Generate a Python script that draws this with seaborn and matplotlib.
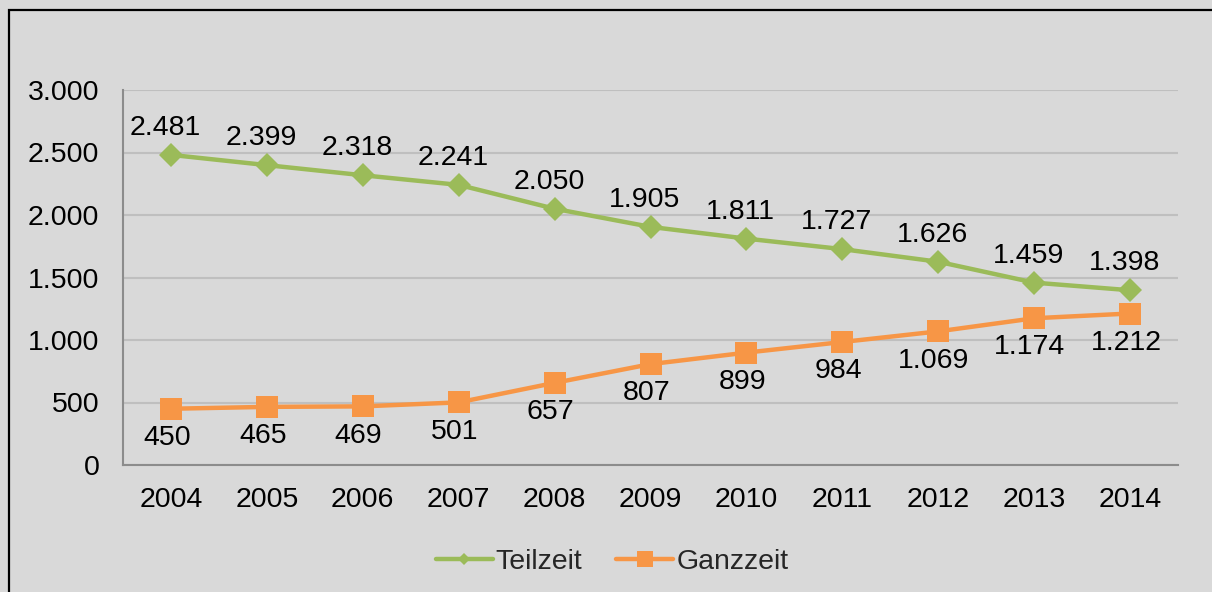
import matplotlib
matplotlib.use("Agg")
import matplotlib.pyplot as plt
import seaborn as sns
import pandas as pd
from matplotlib.lines import Line2D
from matplotlib.patches import Rectangle

years = ["2004", "2005", "2006", "2007", "2008", "2009", "2010", "2011", "2012", "2013", "2014"]
teilzeit = [2481, 2399, 2318, 2241, 2050, 1905, 1811, 1727, 1626, 1459, 1398]
ganzzeit = [450, 465, 469, 501, 657, 807, 899, 984, 1069, 1174, 1212]
series_names = ["Teilzeit", "Ganzzeit"]
y_ticks = [0, 500, 1000, 1500, 2000, 2500, 3000]

colors = {"Teilzeit": "#9BBB59", "Ganzzeit": "#F79646"}
bg = "#D9D9D9"
FS = 20.5

def de_fmt(v):
    return f"{v:,}".replace(",", ".")

df = pd.DataFrame({
    "Jahr": years * 2,
    "Wert": teilzeit + ganzzeit,
    "Serie": ["Teilzeit"] * len(years) + ["Ganzzeit"] * len(years),
})

sns.set_theme(style="white")
plt.rcParams["font.family"] = ["Liberation Sans", "DejaVu Sans"]

fig = plt.figure(figsize=(12.12, 5.92), dpi=100, facecolor=bg)
ax = fig.add_axes([123 / 1212, 1 - 465 / 592, (1178 - 123) / 1212, (465 - 90) / 592])
ax.set_facecolor(bg)

sns.lineplot(data=df, x="Jahr", y="Wert", hue="Serie", style="Serie",
             markers={"Teilzeit": "D", "Ganzzeit": "s"}, dashes=False,
             palette=colors, linewidth=3.2, markeredgewidth=0,
             hue_order=series_names, style_order=series_names,
             ax=ax, legend=False, sort=False)
for ln in ax.lines:
    if ln.get_marker() == "D":
        ln.set_markersize(12.5)
    else:
        ln.set_markersize(15.5)

ax.set_ylim(0, 3000)
ax.set_xlim(-0.5, len(years) - 0.5)
ax.set_yticks(y_ticks)
ax.set_yticklabels([de_fmt(v) for v in y_ticks])
ax.grid(axis="y", color="#BFBFBF", linewidth=1.5)
ax.set_axisbelow(True)
for s in ["top", "right"]:
    ax.spines[s].set_visible(False)
for s in ["left", "bottom"]:
    ax.spines[s].set_color("#8C8C8C")
    ax.spines[s].set_linewidth(1.5)
ax.tick_params(axis="both", length=0, labelsize=FS, colors="black")
ax.tick_params(axis="y", pad=17)
ax.tick_params(axis="x", pad=16)
ax.set_xlabel("")
ax.set_ylabel("")

for i, v in enumerate(teilzeit):
    ax.annotate(de_fmt(v), (i, v), xytext=(-4, 19.5), textcoords="offset points",
                ha="center", va="center", fontsize=FS, color="black")
for i, v in enumerate(ganzzeit):
    ax.annotate(de_fmt(v), (i, v), xytext=(-3, -21), textcoords="offset points",
                ha="center", va="center", fontsize=FS, color="black")

handles = [
    Line2D([], [], color=colors["Teilzeit"], linewidth=3.2, marker="D", markersize=6.5, markeredgewidth=0),
    Line2D([], [], color=colors["Ganzzeit"], linewidth=3.2, marker="s", markersize=11.5, markeredgewidth=0),
]
fig.legend(handles, series_names, loc="center", bbox_to_anchor=(0.505, 1 - 562 / 592),
           ncol=2, frameon=False, fontsize=FS, handlelength=2.0, handletextpad=0.1,
           columnspacing=1.2)

fig.patches.append(Rectangle((8.5 / 1212, -0.1), 1.2, 1 - 10 / 592 + 0.1,
                             transform=fig.transFigure, fill=False,
                             edgecolor="black", linewidth=1.6))

fig.savefig("out.png", dpi=100, facecolor=bg)
